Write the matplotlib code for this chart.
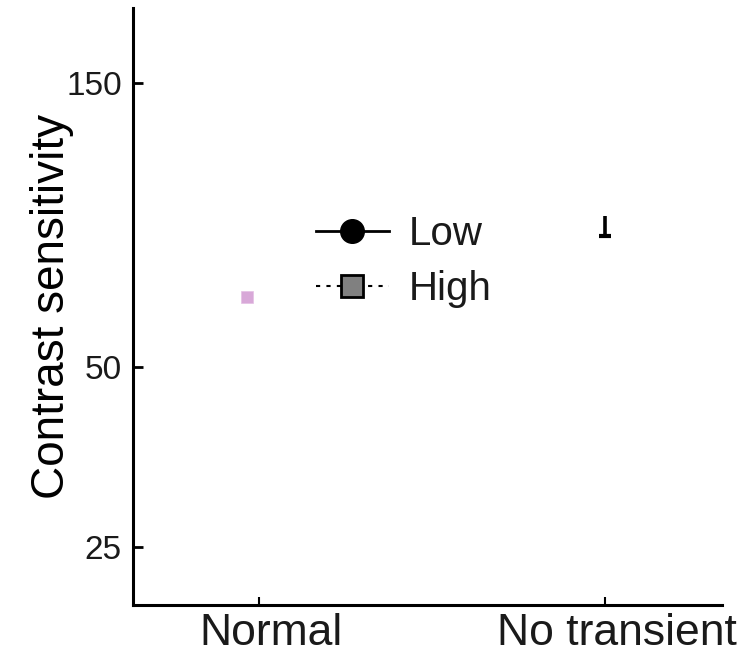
import numpy as np
import matplotlib
matplotlib.use("Agg")
import matplotlib.pyplot as plt
from matplotlib.lines import Line2D
from matplotlib.transforms import ScaledTranslation

plt.rcParams['font.family'] = ['Liberation Sans', 'DejaVu Sans']
plt.rcParams['text.color'] = '#1a1a1a'
plt.rcParams['xtick.labelcolor'] = '#1a1a1a'
plt.rcParams['ytick.labelcolor'] = '#1a1a1a'

conditions = ['Normal', 'No transient']
y_ticks = [25, 50, 150]

# visible marks
high_normal = 65.5          # pink square at "Normal"
low_err_lo = 83.0           # error bar at "No transient"
low_err_hi = 89.6

fig = plt.figure(figsize=(7.52, 6.56), dpi=100)
ax = fig.add_axes([133/752, 51/656, 589/752, 597/656])

x = np.arange(len(conditions))

ax.plot(x[0] - 0.035, high_normal, marker='s', markersize=8.5, color='#d8a8d8',
        markeredgecolor='#e4c0e4', markeredgewidth=0.5, linestyle='none')

ax.vlines(x[1], low_err_lo, low_err_hi, color='black', linewidth=2.6)
ax.plot(x[1], low_err_lo, marker='_', markersize=9, markeredgewidth=3,
        color='black', linestyle='none')

ax.set_yscale('log')
ax.set_ylim(20, 200)
ax.set_xlim(-0.364, 1.338)
ax.set_yticks(y_ticks)
ax.set_yticklabels([str(v) for v in y_ticks])
ax.yaxis.set_minor_locator(matplotlib.ticker.NullLocator())
ax.set_xticks(x)
ax.set_xticklabels(conditions)

ax.tick_params(axis='y', direction='in', length=7, width=2, labelsize=24, pad=8)
ax.tick_params(axis='x', direction='in', length=6, width=1.5, labelsize=32, pad=6)

shift = ScaledTranslation(12/100, 0, fig.dpi_scale_trans)
for lab in ax.get_xticklabels():
    lab.set_transform(lab.get_transform() + shift)

for side in ['top', 'right']:
    ax.spines[side].set_visible(False)
for side in ['left', 'bottom']:
    ax.spines[side].set_linewidth(2.2)

ax.set_ylabel('Contrast sensitivity', fontsize=33)
ax.yaxis.set_label_coords(-0.1, 0.5)

handles = [
    Line2D([], [], color='black', linewidth=2, marker='o', markersize=17,
           markerfacecolor='black', markeredgecolor='black'),
    Line2D([], [], color='black', linewidth=1.5, linestyle=(0, (2, 3)), marker='s',
           markersize=16, markerfacecolor='#808080', markeredgecolor='black',
           markeredgewidth=2),
]
ax.legend(handles, ['Low', 'High'], loc='upper left', frameon=False,
          bbox_to_anchor=(316/752, 1 - 215/656), bbox_transform=fig.transFigure,
          fontsize=29, handlelength=1.8, handletextpad=0.5, labelspacing=0.42,
          borderpad=0, borderaxespad=0)

fig.savefig('out.png', dpi=100)
